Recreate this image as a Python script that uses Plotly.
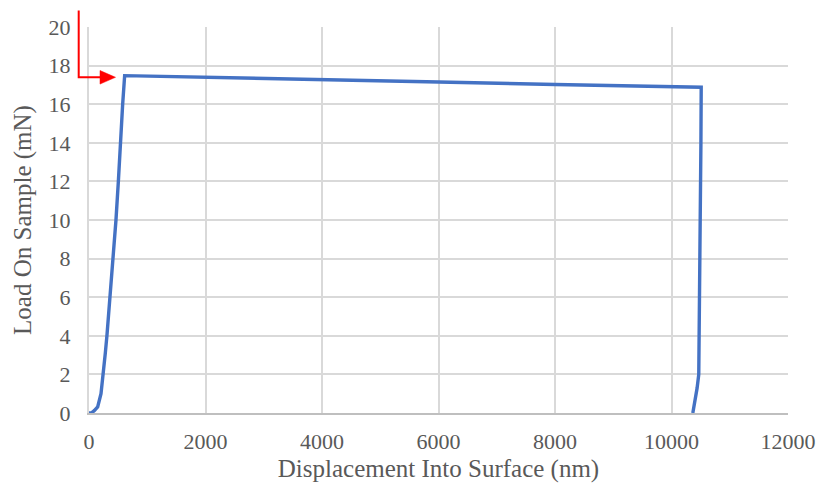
import plotly.graph_objects as go

# Data
displacement_nm = [0, 40, 90, 149, 206, 245, 280, 309, 362, 418, 463, 504, 538, 578, 612,
                   2000, 4000, 6000, 8000, 10000, 10510,
                   10505, 10495, 10486, 10468, 10440, 10415, 10390, 10366]
load_mN = [0, 0, 0.12, 0.31, 1.0, 1.96, 3.1, 4.05, 6.0, 8.0, 10.0, 12.0, 14.0, 16.0, 17.48,
           17.4, 17.3, 17.15, 17.02, 16.92, 16.88,
           14.0, 10.0, 8.0, 2.0, 1.3, 0.8, 0.35, 0.0]

x_ticks = [0, 2000, 4000, 6000, 8000, 10000, 12000]
y_ticks = [0, 2, 4, 6, 8, 10, 12, 14, 16, 18, 20]

FONT = "Liberation Serif, Times New Roman, serif"
GRID = "#d9d9d9"
TXT = "#595959"

fig = go.Figure()
fig.add_trace(go.Scatter(
    x=displacement_nm, y=load_mN, mode="lines",
    line=dict(color="#4472C4", width=3.4),
    showlegend=False, hoverinfo="skip",
))

L, R, T, B = 89, 33, 27, 74
W, H = 821, 487
pw, ph = W - L - R, H - T - B


def px(xp):
    return (xp - L) / pw


def py(yp):
    return (H - B - yp) / ph


# Red bracket arrow pointing at the peak load
fig.add_shape(type="path", xref="paper", yref="paper",
              path=f"M {px(78.7)} {py(10.5)} L {px(78.7)} {py(77.3)} L {px(101)} {py(77.3)}",
              line=dict(color="#ff0000", width=2))
fig.add_shape(type="path", xref="paper", yref="paper",
              path=f"M {px(100)} {py(70.5)} L {px(115.5)} {py(77.3)} L {px(100)} {py(84.1)} Z",
              line=dict(color="#ff0000", width=0.5), fillcolor="#ff0000")

fig.update_layout(
    width=W, height=H,
    margin=dict(l=L, r=R, t=T, b=B, autoexpand=False),
    paper_bgcolor="white", plot_bgcolor="white",
    font=dict(family=FONT, color=TXT, size=22),
    xaxis=dict(
        range=[0, 12000], tickvals=x_ticks, ticktext=[str(v) for v in x_ticks],
        showgrid=True, gridcolor=GRID, gridwidth=2, automargin=False,
        zeroline=False, showline=True, linecolor="#bfbfbf", linewidth=2,
        ticks="outside", ticklen=8, tickcolor="rgba(0,0,0,0)",
        tickfont=dict(family=FONT, size=22, color=TXT),
        title=dict(text="Displacement Into Surface (nm)", standoff=6,
                   font=dict(family=FONT, size=25, color=TXT)),
    ),
    yaxis=dict(
        range=[0, 20], tickvals=y_ticks, ticktext=[str(v) for v in y_ticks],
        showgrid=True, gridcolor=GRID, gridwidth=2, automargin=False,
        zeroline=False, showline=True, linecolor=GRID, linewidth=2,
        ticks="outside", ticklen=12, tickcolor="rgba(0,0,0,0)",
        tickfont=dict(family=FONT, size=22, color=TXT),
        title=dict(text="Load On Sample (mN)", standoff=10,
                   font=dict(family=FONT, size=25, color=TXT)),
    ),
)

fig.write_html("out.html",
               config={"displayModeBar": False, "staticPlot": True},
               post_script="document.body.style.margin='0';document.body.style.overflow='hidden';")
